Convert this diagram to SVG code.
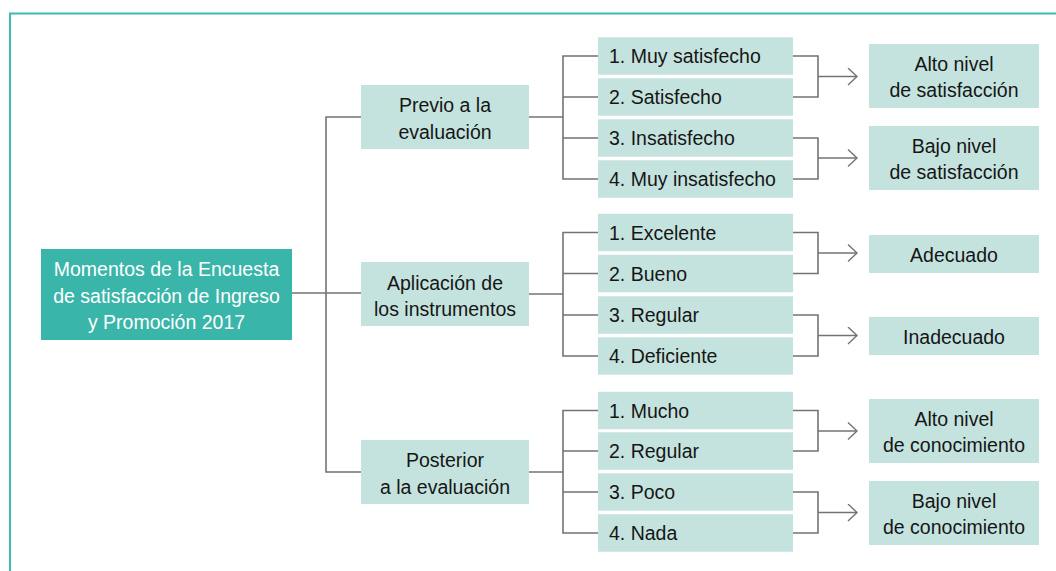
<svg xmlns="http://www.w3.org/2000/svg" width="1056" height="571" viewBox="0 0 1056 571">
<defs>
<style>
.frame{fill:none;stroke:#3dbcae;stroke-width:2}
.box{fill:#c5e3de}
.main{fill:#3ab5a9}
.t{font-family:"Liberation Sans",Arial,sans-serif;font-size:19.5px;fill:#161616}
.c{text-anchor:middle}
.w{fill:#ffffff}
.ln{fill:none;stroke:#737373;stroke-width:1.6}
</style>
<marker id="arr" markerUnits="userSpaceOnUse" markerWidth="12" markerHeight="20" refX="10" refY="9" orient="auto">
<path d="M1,0.5 L10,9 L1,17.5" fill="none" stroke="#737373" stroke-width="1.4"/>
</marker>
</defs>
<rect width="1056" height="571" fill="#ffffff"/>
<path class="frame" d="M10,575 V13.5 H1060"/>

<g id="connectors">
<path class="ln" d="M292,293 H361"/>
<path class="ln" d="M361,117 H326 V472 H361"/>
<path class="ln" d="M529,117 H563"/>
<path class="ln" d="M598,56 H563 V179 H598 M563,97 H598 M563,138 H598"/>
<path class="ln" d="M529,294 H563"/>
<path class="ln" d="M598,232.5 H563 V356 H598 M563,273.5 H598 M563,315 H598"/>
<path class="ln" d="M529,472 H563"/>
<path class="ln" d="M598,410.5 H563 V533 H598 M563,451 H598 M563,492 H598"/>
<path class="ln" d="M793,56 H818 V97 H793"/>
<path class="ln" d="M818,76.5 H857" marker-end="url(#arr)"/>
<path class="ln" d="M793,138 H818 V179 H793"/>
<path class="ln" d="M818,158 H857" marker-end="url(#arr)"/>
<path class="ln" d="M793,232.5 H818 V273.5 H793"/>
<path class="ln" d="M818,253 H857" marker-end="url(#arr)"/>
<path class="ln" d="M793,315 H818 V356 H793"/>
<path class="ln" d="M818,335.5 H857" marker-end="url(#arr)"/>
<path class="ln" d="M793,410.5 H818 V451 H793"/>
<path class="ln" d="M818,431 H857" marker-end="url(#arr)"/>
<path class="ln" d="M793,492 H818 V533 H793"/>
<path class="ln" d="M818,512.5 H857" marker-end="url(#arr)"/>
</g>

<g id="main">
<rect class="main" x="41" y="249" width="251" height="91"/>
<text class="t c w" x="166.5" y="276">Momentos de la Encuesta</text>
<text class="t c w" x="166.5" y="302.5">de satisfacción de Ingreso</text>
<text class="t c w" x="166.5" y="329">y Promoción 2017</text>
</g>

<g id="previo">
<rect class="box" x="361" y="85" width="168" height="64"/>
<text class="t c" x="445" y="112">Previo a la</text>
<text class="t c" x="445" y="139">evaluación</text>
</g>
<g id="aplicacion">
<rect class="box" x="361" y="262" width="168" height="64"/>
<text class="t c" x="445" y="290">Aplicación de</text>
<text class="t c" x="445" y="316">los instrumentos</text>
</g>
<g id="posterior">
<rect class="box" x="361" y="440" width="168" height="64"/>
<text class="t c" x="445" y="467">Posterior</text>
<text class="t c" x="445" y="493.5">a la evaluación</text>
</g>

<g id="g1-1"><rect class="box" x="598" y="37.25" width="195" height="37.5"/><text class="t" x="609" y="63">1. Muy satisfecho</text></g>
<g id="g1-2"><rect class="box" x="598" y="78.25" width="195" height="37.5"/><text class="t" x="609" y="104">2. Satisfecho</text></g>
<g id="g1-3"><rect class="box" x="598" y="119.25" width="195" height="37.5"/><text class="t" x="609" y="145">3. Insatisfecho</text></g>
<g id="g1-4"><rect class="box" x="598" y="160.25" width="195" height="37.5"/><text class="t" x="609" y="186">4. Muy insatisfecho</text></g>

<g id="g2-1"><rect class="box" x="598" y="213.75" width="195" height="37.5"/><text class="t" x="609" y="239.5">1. Excelente</text></g>
<g id="g2-2"><rect class="box" x="598" y="254.75" width="195" height="37.5"/><text class="t" x="609" y="280.5">2. Bueno</text></g>
<g id="g2-3"><rect class="box" x="598" y="296.25" width="195" height="37.5"/><text class="t" x="609" y="322">3. Regular</text></g>
<g id="g2-4"><rect class="box" x="598" y="337.25" width="195" height="37.5"/><text class="t" x="609" y="363">4. Deficiente</text></g>

<g id="g3-1"><rect class="box" x="598" y="391.75" width="195" height="37.5"/><text class="t" x="609" y="417.5">1. Mucho</text></g>
<g id="g3-2"><rect class="box" x="598" y="432.25" width="195" height="37.5"/><text class="t" x="609" y="458">2. Regular</text></g>
<g id="g3-3"><rect class="box" x="598" y="473.25" width="195" height="37.5"/><text class="t" x="609" y="499">3. Poco</text></g>
<g id="g3-4"><rect class="box" x="598" y="514.25" width="195" height="37.5"/><text class="t" x="609" y="540">4. Nada</text></g>

<g id="r1"><rect class="box" x="869" y="44" width="170" height="64"/><text class="t c" x="954" y="70.5">Alto nivel</text><text class="t c" x="954" y="97">de satisfacción</text></g>
<g id="r2"><rect class="box" x="869" y="126" width="170" height="64"/><text class="t c" x="954" y="152.5">Bajo nivel</text><text class="t c" x="954" y="179">de satisfacción</text></g>
<g id="r3"><rect class="box" x="869" y="235" width="170" height="38"/><text class="t c" x="954" y="261.5">Adecuado</text></g>
<g id="r4"><rect class="box" x="869" y="317" width="170" height="38"/><text class="t c" x="954" y="343.5">Inadecuado</text></g>
<g id="r5"><rect class="box" x="869" y="399" width="170" height="64"/><text class="t c" x="954" y="425.5">Alto nivel</text><text class="t c" x="954" y="452">de conocimiento</text></g>
<g id="r6"><rect class="box" x="869" y="481" width="170" height="64"/><text class="t c" x="954" y="507.5">Bajo nivel</text><text class="t c" x="954" y="534">de conocimiento</text></g>
</svg>
